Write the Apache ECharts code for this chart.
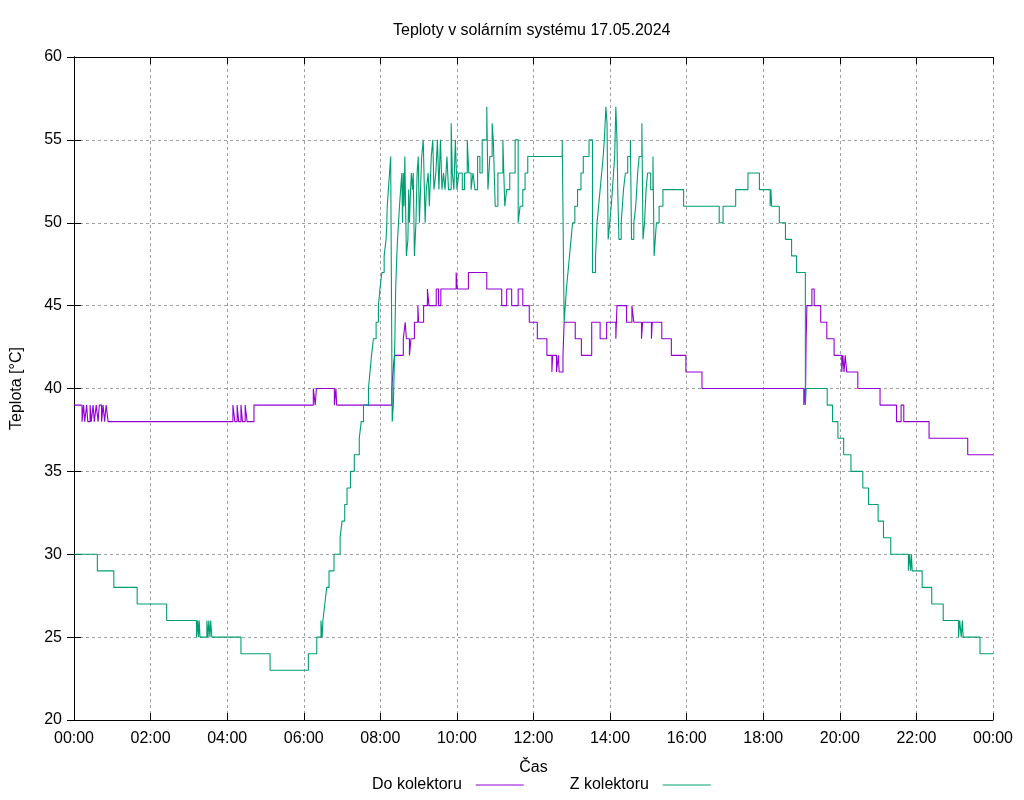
<!DOCTYPE html>
<html>
<head>
<meta charset="utf-8">
<title>Teploty v solárním systému</title>
<script src="https://cdn.jsdelivr.net/npm/echarts/dist/echarts.min.js"></script>
<style>
  html, body { margin: 0; padding: 0; background: #fff; }
  #chart { width: 1024px; height: 800px; }
</style>
</head>
<body>
<div id="chart"></div>
<script>
// cas v hodinach (desetinne), teplota drzi do dalsiho bodu
const doTimes = [0, 0.21, 0.25, 0.28, 0.33, 0.36, 0.42, 0.45, 0.5, 0.53, 0.58, 0.63, 0.66, 0.72, 0.76, 0.8, 0.84, 0.89,
  4.15, 4.2, 4.26, 4.3, 4.36, 4.4, 4.47, 4.52, 4.7, 6.25, 6.3, 6.33, 6.8, 6.84, 6.86,
  8.3, 8.33, 8.37, 8.6, 8.65, 8.68, 8.76, 8.8, 8.89, 8.98, 9.0, 9.13, 9.23, 9.27, 9.46, 9.52, 9.58, 9.98, 10.01, 10.3,
  10.78, 11.17, 11.3, 11.43, 11.6, 11.72, 11.89, 12.1, 12.35, 12.48, 12.5, 12.6, 12.65, 12.67, 12.77, 12.8,
  13.09, 13.25, 13.52, 13.74, 13.91, 14.15, 14.18, 14.43, 14.57, 14.62, 14.82, 14.85, 15.08, 15.1, 15.35, 15.6,
  15.98, 16.4, 19.06, 19.08, 19.1, 19.12, 19.14, 19.27, 19.33, 19.5, 19.66, 19.85, 20.05, 20.08, 20.11, 20.14,
  20.18, 20.47, 21.05, 21.48, 21.6, 21.67, 22.33, 23.34, 24]
const doTemps = [39, 38, 39, 38, 39, 38, 39, 38, 39, 38, 39, 38, 39, 38, 39, 38, 39, 38,
  39, 38, 39, 38, 39, 38, 39, 38, 39, 40, 39, 40, 39, 40, 39,
  40, 41, 42, 43, 44, 43, 42, 43, 44, 45, 44, 45, 46, 45, 46, 45, 46, 47, 46, 47,
  46, 45, 46, 45, 46, 45, 44, 43, 42, 41, 42, 41, 42, 41, 42, 44,
  43, 42, 44, 43, 44, 43, 45, 44, 45, 44, 43, 44, 43, 44, 43, 42,
  41, 40, 39, 40, 39, 43, 45, 46, 45, 44, 43, 42, 41, 42, 41, 42,
  41, 40, 39, 38, 39, 38, 37, 36, 36]

const zTimes = [0, 0.61, 1.04, 1.65, 2.42, 3.2, 3.23, 3.25, 3.27, 3.29, 3.47, 3.5, 3.52, 3.55, 3.57, 3.6, 4.36, 5.12,
  6.12, 6.34, 6.45, 6.48, 6.5, 6.55, 6.6, 6.66, 6.79, 6.95, 7.0, 7.07, 7.13, 7.22, 7.32, 7.45, 7.5, 7.56, 7.69,
  7.73, 7.77, 7.82, 7.89, 7.95, 7.99, 8.04, 8.1, 8.15, 8.17, 8.18, 8.21, 8.24, 8.27, 8.31, 8.34, 8.36, 8.38, 8.4,
  8.43, 8.45, 8.5, 8.53, 8.56, 8.58, 8.6, 8.62, 8.64, 8.66, 8.68, 8.72, 8.74, 8.76, 8.79, 8.81, 8.84, 8.86, 8.89,
  8.93, 8.96, 8.99, 9.02, 9.05, 9.08, 9.12, 9.17, 9.2, 9.25, 9.28, 9.33, 9.37, 9.4, 9.45, 9.49, 9.53, 9.57, 9.61,
  9.65, 9.69, 9.74, 9.78, 9.85, 9.88, 9.92, 9.96, 10.0, 10.05, 10.14, 10.2, 10.27, 10.31, 10.37, 10.42, 10.47,
  10.54, 10.6, 10.66, 10.78, 10.81, 10.86, 10.92, 10.95, 11.0, 11.07, 11.2, 11.25, 11.3, 11.38, 11.52, 11.6,
  11.65, 11.72, 11.78, 11.85, 12.75, 12.8, 12.83, 12.86, 12.9, 12.94, 12.98, 13.02, 13.08, 13.15, 13.24, 13.3,
  13.45, 13.54, 13.62, 13.66, 13.7, 13.74, 13.78, 13.82, 13.85, 13.89, 13.92, 13.95, 13.99, 14.03, 14.06, 14.09,
  14.12, 14.15, 14.18, 14.2, 14.23, 14.29, 14.32, 14.35, 14.4, 14.46, 14.53, 14.56, 14.62, 14.67, 14.72, 14.76,
  14.83, 14.86, 14.9, 14.94, 14.98, 15.06, 15.12, 15.15, 15.18, 15.21, 15.28, 15.38, 15.92, 16.85, 16.95, 17.28,
  17.6, 17.9, 18.18, 18.2, 18.22, 18.42, 18.58, 18.74, 18.87, 19.1, 19.12, 19.67, 19.81, 19.95, 20.1, 20.29, 20.6,
  20.75, 21.0, 21.14, 21.33, 21.79, 21.82, 21.85, 21.87, 21.89, 22.15, 22.4, 22.7, 23.1, 23.13, 23.17, 23.2,
  23.22, 23.66, 24]
const zTemps = [30, 29, 28, 27, 26, 25, 26, 25, 26, 25, 26, 25, 26, 25, 26, 25, 24, 23,
  24, 25, 26, 25, 26, 27, 28, 29, 30, 31, 32, 33, 34, 35, 36, 37, 38, 39, 40,
  41, 42, 43, 44, 45, 46, 47, 48, 49, 50, 51, 52, 53, 54, 38, 39, 41, 43, 46,
  48, 49, 51, 52, 53, 50, 53, 51, 54, 51, 48, 49, 52, 50, 52, 53, 52, 53, 48,
  50, 53, 54, 50, 52, 54, 55, 50, 52, 53, 51, 54, 55, 52, 53, 55, 52, 55, 52,
  53, 52, 54, 52, 56, 53, 52, 55, 52, 53, 52, 53, 55, 53, 52, 53, 52,
  54, 53, 55, 57, 52, 54, 56, 55, 51, 53, 55, 51, 52, 53, 55, 50,
  51, 52, 53, 54, 55, 44, 45, 46, 47, 48, 49, 50, 51, 52, 53, 54,
  55, 47, 48, 50, 51, 52, 53, 54, 55, 57, 56, 49, 50, 51, 52, 53,
  54, 57, 55, 52, 49, 50, 51, 52, 53, 54, 55, 49, 50, 51, 53, 54,
  56, 49, 50, 52, 53, 52, 54, 48, 49, 50, 51, 52, 51, 50, 51, 52,
  53, 52, 51, 52, 51, 50, 49, 48, 47, 39, 40, 39, 38, 37, 36, 35, 34,
  33, 32, 31, 30, 29, 30, 29, 30, 29, 28, 27, 26, 25, 26, 25, 26,
  25, 24, 24]

const seriesNames = ["Do kolektoru", "Z kolektoru"]
const colors = ["#9400d3", "#009e73"]

const fontFamily = "'Liberation Sans', Arial, sans-serif"

function pairs(times, temps) {
  return times.map((t, i) => [t, temps[i]])
}

function hourLabel(v) {
  const h = Math.round(v) % 24
  return (h < 10 ? "0" + h : "" + h) + ":00"
}

const gridLine = { show: true, lineStyle: { color: "#a0a0a0", type: [3, 3], width: 1 } }
const tick = { show: true, inside: true, length: 7, lineStyle: { color: "#000" } }
const blackLine = { show: true, lineStyle: { color: "#000", width: 1 } }

const chart = echarts.init(document.getElementById("chart"))

chart.setOption({
  animation: false,
  backgroundColor: "#fff",
  color: colors,
  textStyle: { fontFamily: fontFamily },
  title: {
    text: "Teploty v solárním systému 17.05.2024",
    left: 388,
    top: 18,
    textStyle: { fontSize: 16, fontWeight: "normal", color: "#000", fontFamily: fontFamily },
  },
  legend: {
    data: seriesNames,
    left: 367,
    top: 772,
    align: "right",
    icon: "rect",
    itemWidth: 48,
    itemHeight: 1,
    itemGap: 46,
    formatter: (name) => name + "  ",
    textStyle: { fontSize: 16, color: "#000", fontFamily: fontFamily },
  },
  grid: { left: 74, right: 31, top: 57, bottom: 80 },
  xAxis: [
    {
      type: "value",
      min: 0,
      max: 24,
      interval: 2,
      name: "Čas",
      nameLocation: "middle",
      nameGap: 40,
      nameTextStyle: { fontSize: 16, color: "#000" },
      axisLine: blackLine,
      axisTick: tick,
      splitLine: gridLine,
      axisLabel: { fontSize: 16, color: "#000", margin: 11, formatter: hourLabel },
    },
    {
      type: "value",
      position: "top",
      min: 0,
      max: 24,
      interval: 2,
      axisLine: blackLine,
      axisTick: tick,
      splitLine: { show: false },
      axisLabel: { show: false },
    },
  ],
  yAxis: [
    {
      type: "value",
      min: 20,
      max: 60,
      interval: 5,
      name: "Teplota [°C]",
      nameLocation: "middle",
      nameGap: 49,
      nameTextStyle: { fontSize: 16, color: "#000" },
      axisLine: blackLine,
      axisTick: tick,
      splitLine: gridLine,
      axisLabel: { fontSize: 16, color: "#000", margin: 12 },
    },
    {
      type: "value",
      position: "right",
      min: 20,
      max: 60,
      interval: 5,
      axisLine: blackLine,
      axisTick: tick,
      splitLine: { show: false },
      axisLabel: { show: false },
    },
  ],
  series: [
    {
      name: seriesNames[0],
      type: "line",
      step: "end",
      showSymbol: false,
      lineStyle: { width: 1.1 },
      data: pairs(doTimes, doTemps),
    },
    {
      name: seriesNames[1],
      type: "line",
      step: "end",
      showSymbol: false,
      lineStyle: { width: 1.1 },
      data: pairs(zTimes, zTemps),
    },
  ],
})
</script>
</body>
</html>
